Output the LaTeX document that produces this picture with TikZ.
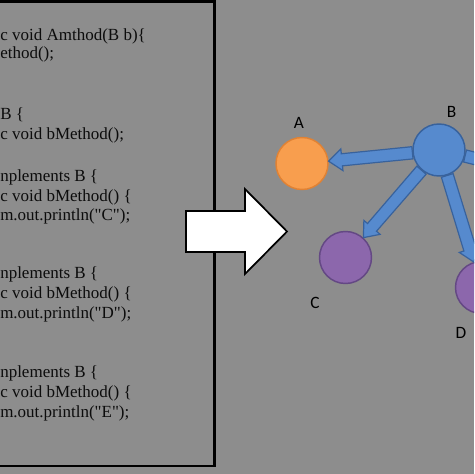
\documentclass[tikz,border=0pt]{standalone}
\usepackage{fontspec}
\setmainfont{Liberation Serif}
\newfontfamily\lblfont{Carlito}
\usepackage{xcolor}
\usepackage{tikz}
\usetikzlibrary{calc}
\usetikzlibrary{positioning}

\definecolor{bggray}{RGB}{141,141,141}
\definecolor{codeink}{RGB}{12,12,12}
\definecolor{bluefill}{RGB}{86,138,206}
\definecolor{bluedark}{RGB}{56,98,156}
\definecolor{orangefill}{RGB}{248,158,78}
\definecolor{orangeline}{RGB}{224,130,52}
\definecolor{purplefill}{RGB}{140,103,172}
\definecolor{purpleline}{RGB}{100,72,132}

\tikzset{
  code/.style={anchor=base west, inner sep=0.75pt, text=codeink, font=\fontsize{12.75}{15}\selectfont},
  lbl/.style={inner sep=0.75pt, text=black, font=\lblfont\fontsize{13}{15}\selectfont},
  circ/.style={circle, minimum size=39pt, inner sep=0pt, line width=1.1pt},
  bigarrow/.style={draw=black, fill=white, line width=1.3pt, line join=miter},
  link/.style={draw=bluedark, fill=bluefill, line width=0.9pt, line join=miter,
    to path={let \p1=($(\tikztotarget)-(\tikztostart)$), \n1={atan2(\y1,\x1)}, \n3={\n1+180},
      \p2=(\tikztostart.\n1), \p3=(\tikztotarget.\n3), \p4=($(\p3)-(\p2)$), \n2={veclen(\x4,\y4)} in
      (\p2) ++(\n1+90:4.6pt) -- ++(\n1:\n2-10pt) -- ++(\n1+90:3.6pt) -- (\p3)
      -- ($(\p3)+(\n1+180:10pt)+(\n1-90:8.2pt)$) -- ++(\n1+90:3.6pt)
      -- ($(\p2)+(\n1-90:4.6pt)$) -- cycle}}
}

\begin{document}
\begin{tikzpicture}[x=0.75pt,y=-0.75pt]
  \clip (0,0) rectangle (474,474);
  \fill [bggray] (0,0) rectangle (474,474);

  %Rect: code panel
  \draw [line width=1.9pt, fill=bggray] (-10,1.5) rectangle (214.5,466);

  % Text Node
  \draw (-1,41) node [code] (c1) {c void Amthod(B b)\{};
  % Text Node
  \draw (-1,59) node [code] (c2) {ethod();};
  % Text Node
  \draw (-1,120) node [code] (c3) {B \{};
  % Text Node
  \draw (-1,139) node [code] (c4) {c void bMethod();};
  % Text Node
  \draw (-1,181) node [code] (c5) {nplements B \{};
  % Text Node
  \draw (-1,201) node [code] (c6) {c void bMethod() \{};
  % Text Node
  \draw (-1,220) node [code] (c7) {m.out.println(\textquotedbl C\textquotedbl);};
  % Text Node
  \draw (-1,278) node [code] (c8) {nplements B \{};
  % Text Node
  \draw (-1,298) node [code] (c9) {c void bMethod() \{};
  % Text Node
  \draw (-1,318) node [code] (c10) {m.out.println(\textquotedbl D\textquotedbl);};
  % Text Node
  \draw (-1,377) node [code] (c11) {nplements B \{};
  % Text Node
  \draw (-1,397) node [code] (c12) {c void bMethod() \{};
  % Text Node
  \draw (-1,417) node [code] (c13) {m.out.println(\textquotedbl E\textquotedbl);};

  %Right Arrow
  \draw [bigarrow] (186,211) -- (245,211) -- (245,189) -- (287,231.5) -- (245,274) -- (245,252) -- (186,252) -- cycle;

  %Circles
  \node [circ, fill=orangefill, draw=orangeline] (A) at (302,163.5) {};
  \node [circ, fill=bluefill, draw=bluedark] (B) at (439,150) {};
  \node [circ, fill=purplefill, draw=purpleline] (C) at (345.5,257.5) {};
  \node [circ, fill=purplefill, draw=purpleline] (D) at (481.5,287.5) {};
  \coordinate (E) at (545,176);

  %Block arrows
  \draw [link] (B) to (A);
  \draw [link] (B) to (C);
  \draw [link] (B) to (D);
  \draw [link] (B) to (E);

  % Text Node
  \node [lbl] (lA) at (299,122.5) {A};
  \node [lbl] (lB) at (451.5,111.5) {B};
  \node [lbl] (lC) at (315,302.5) {C};
  \node [lbl] (lD) at (461,332.5) {D};
\end{tikzpicture}
\end{document}
